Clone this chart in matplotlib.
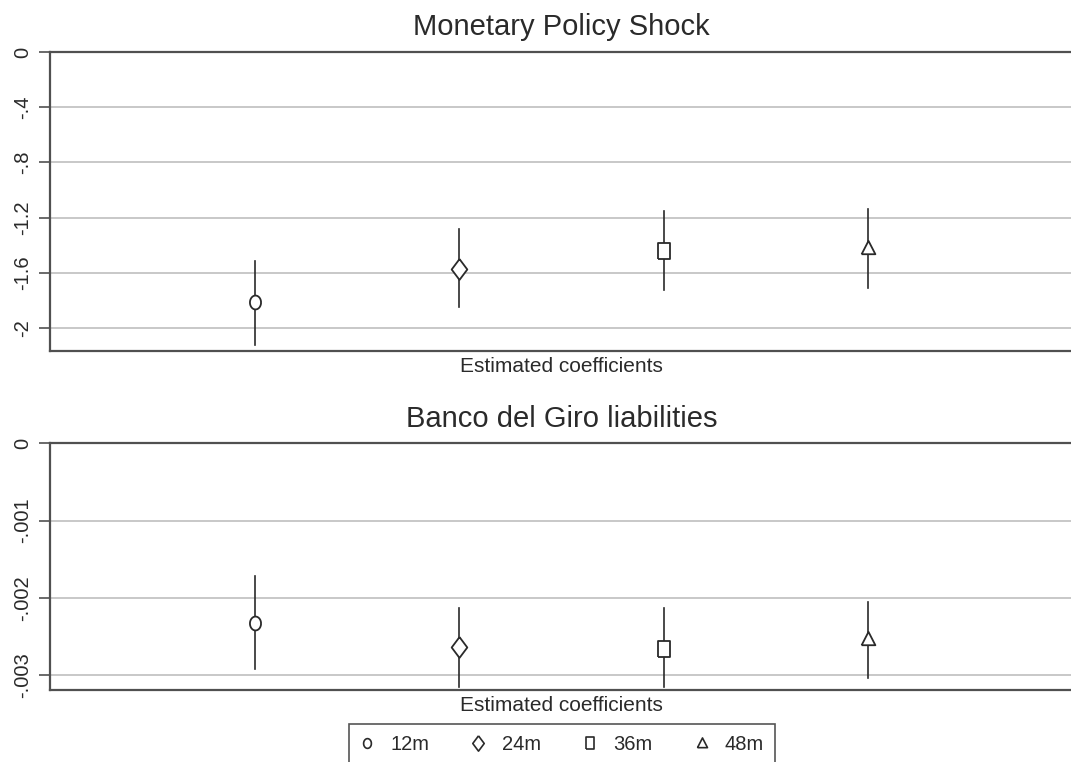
import numpy as np
import matplotlib
matplotlib.use('Agg')
import matplotlib.pyplot as plt
from matplotlib.lines import Line2D

plt.rcParams['font.family'] = ['Liberation Sans', 'DejaVu Sans']

# --- DATA ---
horizons = ['12m', '24m', '36m', '48m']
positions = [1, 2, 3, 4]

# Monetary policy shock: point estimate and confidence band
mp_coef = [-1.81, -1.57, -1.44, -1.42]
mp_low = [-2.12, -1.85, -1.72, -1.71]
mp_high = [-1.51, -1.28, -1.15, -1.14]

# Banco del Giro liabilities
bg_coef = [-0.00232, -0.00264, -0.00266, -0.00253]
bg_low = [-0.00292, -0.00315, -0.00315, -0.00303]
bg_high = [-0.00172, -0.00213, -0.00213, -0.00205]

mp_ticks = [0, -0.4, -0.8, -1.2, -1.6, -2]
mp_ticklabels = ['0', '-.4', '-.8', '-1.2', '-1.6', '-2']
bg_ticks = [0, -0.001, -0.002, -0.003]
bg_ticklabels = ['0', '-.001', '-.002', '-.003']

# slightly tall marker shapes, like the original export
markers = [
    [(np.cos(t) * 0.8, np.sin(t)) for t in np.linspace(0, 2 * np.pi, 40)],
    [(0, 1), (0.75, 0), (0, -1), (-0.75, 0), (0, 1)],
    [(-0.7, -1), (0.7, -1), (0.7, 1), (-0.7, 1), (-0.7, -1)],
    [(-0.9, -0.75), (0.9, -0.75), (0, 1), (-0.9, -0.75)],
]
marker_sizes = [10, 15, 12, 11]
legend_sizes = [7, 11, 9, 8]

dark = '#2a2a2a'
grid_col = '#c4c4c4'
spine_col = '#505050'

fig = plt.figure(figsize=(10.71, 7.62), dpi=100)
ax1 = fig.add_axes([50 / 1071, 1 - 351 / 762, 1023 / 1071, 299 / 762])
ax2 = fig.add_axes([50 / 1071, 1 - 690 / 762, 1023 / 1071, 246.7 / 762])


def draw_panel(ax, coef, low, high, ticks, ticklabels, ylim, title):
    for i in range(len(positions)):
        ax.plot([positions[i], positions[i]], [low[i], high[i]],
                color=dark, linewidth=1.2, zorder=3)
        ax.plot(positions[i], coef[i], linestyle='none', marker=markers[i],
                markersize=marker_sizes[i], markerfacecolor='white',
                markeredgecolor=dark, markeredgewidth=1.3, zorder=4)
    ax.set_xlim(0, 5)
    ax.set_ylim(*ylim)
    ax.set_yticks(ticks)
    ax.set_yticklabels(ticklabels, rotation=90, va='center', fontsize=14.5,
                       color=dark)
    ax.set_xticks([])
    ax.grid(True, axis='y', color=grid_col, linewidth=1.3, zorder=1)
    ax.set_axisbelow(True)
    ax.tick_params(axis='y', direction='out', length=8, width=1.2,
                   color=spine_col, pad=5)
    for side in ['left', 'bottom', 'top']:
        ax.spines[side].set_color(spine_col)
        ax.spines[side].set_linewidth(1.6)
    ax.spines['right'].set_visible(False)
    ax.set_xlabel('Estimated coefficients', fontsize=15, color=dark, labelpad=4)
    ax.set_title(title, fontsize=21, color=dark, pad=12)


draw_panel(ax1, mp_coef, mp_low, mp_high, mp_ticks, mp_ticklabels,
           (-2.165, 0), 'Monetary Policy Shock')
draw_panel(ax2, bg_coef, bg_low, bg_high, bg_ticks, bg_ticklabels,
           (-0.00319, 0), 'Banco del Giro liabilities')

handles = [Line2D([], [], linestyle='none', marker=markers[i],
                  markersize=legend_sizes[i], markerfacecolor='white',
                  markeredgecolor=dark, markeredgewidth=1.2)
           for i in range(len(horizons))]
leg = fig.legend(handles, horizons, loc='upper center', ncol=4,
                 bbox_to_anchor=(562 / 1071, 1 - 724 / 762),
                 fontsize=14.5, frameon=True, fancybox=False,
                 handlelength=0.7, handletextpad=0.8, columnspacing=2.1,
                 borderpad=0.55, borderaxespad=0)
for t in leg.get_texts():
    t.set_color(dark)
leg.get_frame().set_edgecolor(dark)
leg.get_frame().set_linewidth(1.2)

fig.savefig('out.png', dpi=100, facecolor='white')
